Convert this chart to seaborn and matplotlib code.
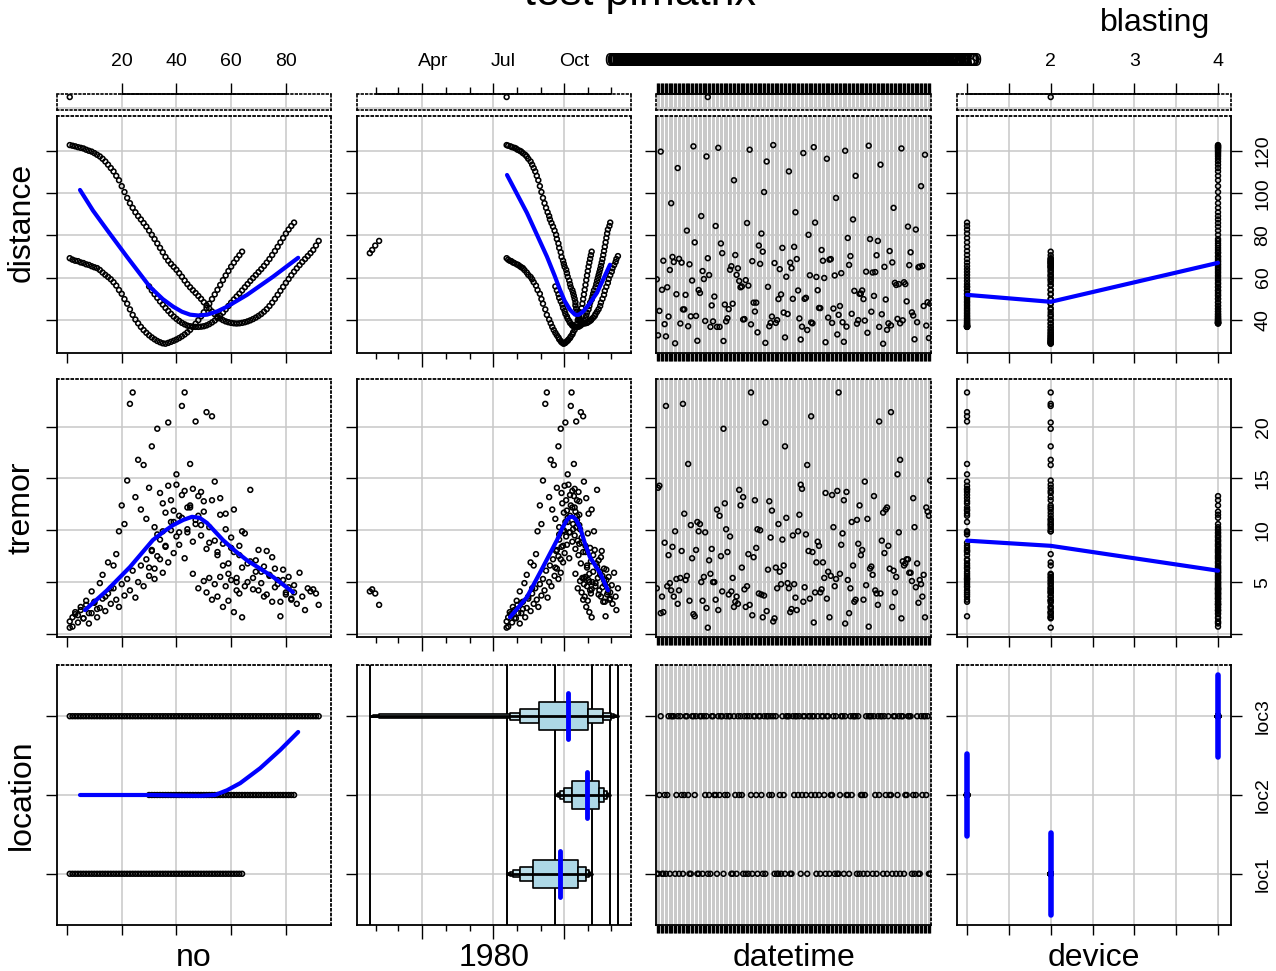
import numpy as np
import pandas as pd
import matplotlib
matplotlib.use("Agg")
import matplotlib.pyplot as plt
import matplotlib.transforms as mtransforms
import seaborn as sns

# ---------------- data ----------------
# location loc1 (device 2), no 1..64
loc1_distance = [69.2, 68.5, 68.0, 67.8, 67.2, 66.9, 66.3, 66.0, 65.4, 64.9,
                 64.5, 63.6, 62.4, 61.3, 60.3, 59.2, 57.8, 56.2, 54.1, 52.3,
                 49.8, 47.6, 44.9, 42.3, 40.1, 38.3, 36.6, 35.1, 33.8, 32.6,
                 31.6, 30.7, 29.9, 29.3, 28.8, 28.6, 29.0, 29.5, 30.0, 30.6,
                 31.3, 32.1, 33.0, 34.0, 35.2, 36.6, 38.1, 39.8, 41.6, 43.5,
                 45.5, 47.6, 49.8, 52.0, 54.2, 56.5, 58.8, 61.0, 63.1, 65.2,
                 67.1, 68.9, 70.6, 72.3]
loc1_tremor = [0.6, 1.6, 2.1, 1.8, 2.6, 1.5, 3.2, 2.0, 4.1, 3.0,
               2.4, 4.9, 5.7, 3.6, 6.9, 4.4, 6.6, 7.7, 9.9, 12.4,
               10.6, 14.8, 22.2, 23.3, 13.2, 16.8, 12.0, 16.3, 11.1, 14.1,
               18.1, 10.3, 19.8, 13.6, 9.9, 11.7, 20.4, 12.9, 10.8, 14.4,
               11.4, 22.0, 13.8, 10.1, 12.2, 5.8, 11.0, 4.4, 10.5, 5.1,
               4.0, 5.4, 3.3, 4.8, 3.6, 5.5, 2.6, 4.6, 3.2, 5.2,
               2.1, 4.2, 3.9, 1.6]
loc1_day = [201, 203, 205, 207, 209, 211, 214, 216, 218, 220,
            222, 224, 227, 229, 232, 234, 236, 239, 241, 244,
            246, 248, 251, 253, 256, 258, 260, 262, 264, 266,
            268, 269, 271, 272, 274, 275, 277, 278, 280, 281,
            283, 284, 286, 287, 289, 290, 292, 293, 295, 296,
            298, 299, 300, 301, 302, 303, 304, 305, 306, 307,
            308, 309, 310, 311]
loc1_time = [1015, 1342, 905, 1130, 1528, 1207, 946, 1415, 1052, 1610,
             1238, 918, 1456, 1103, 1321, 842, 1549, 1126, 1004, 1433,
             1212, 1650, 935, 1358, 1117, 1542, 1029, 1305, 1446, 851,
             1224, 1607, 1040, 1337, 926, 1515, 1148, 1409, 1003, 1251,
             1628, 912, 1354, 1136, 1520, 1018, 1431, 1209, 946, 1603,
             1327, 1055, 1442, 1214, 904, 1536, 1121, 1348, 1009, 1612,
             1235, 930, 1502, 1144]

# location loc2 (device 1), no 30..83
loc2_distance = [55.8, 53.9, 52.1, 50.4, 48.7, 47.2, 45.6, 44.2, 42.8, 41.5,
                 40.4, 39.4, 38.5, 37.8, 37.2, 36.9, 36.7, 36.6, 36.6, 36.7,
                 36.9, 37.3, 37.9, 38.7, 39.6, 40.7, 42.0, 43.4, 44.9, 46.5,
                 48.1, 49.6, 51.0, 52.4, 53.9, 55.4, 56.9, 58.4, 59.8, 61.2,
                 62.6, 64.0, 65.5, 67.1, 68.8, 70.7, 72.6, 74.6, 76.7, 78.8,
                 80.9, 82.8, 84.5, 86.1]
loc2_tremor = [6.4, 8.1, 5.3, 9.6, 7.2, 12.6, 8.5, 14.3, 10.8, 11.9,
               15.4, 9.8, 13.4, 23.3, 12.2, 16.4, 14.0, 20.5, 11.4, 13.7,
               12.8, 21.4, 8.8, 21.0, 14.7, 7.9, 13.1, 6.6, 11.6, 5.8,
               8.3, 12.0, 5.0, 7.6, 9.9, 4.6, 6.8, 13.9, 5.4, 7.1,
               4.2, 6.0, 3.6, 8.0, 5.6, 3.1, 6.3, 4.8, 1.7, 5.2,
               3.8, 4.5, 3.3, 4.0]
loc2_day = [264, 266, 268, 269, 271, 273, 274, 276, 277, 279,
            280, 282, 283, 285, 286, 288, 289, 291, 292, 294,
            295, 297, 298, 300, 301, 303, 304, 305, 307, 308,
            309, 311, 312, 313, 314, 316, 317, 318, 319, 320,
            321, 322, 323, 324, 325, 326, 327, 328, 329, 330,
            331, 332, 334, 335]
loc2_time = [1112, 1436, 927, 1302, 1554, 1041, 1325, 858, 1417, 1203,
             1538, 1014, 1346, 1129, 1621, 945, 1251, 1503, 1036, 1410,
             1158, 1527, 907, 1315, 1442, 1047, 1604, 1222, 938, 1359,
             1135, 1519, 1024, 1436, 1247, 913, 1550, 1106, 1332, 1017,
             1458, 1213, 1618, 934, 1344, 1102, 1526, 1239, 954, 1411,
             1143, 1607, 1028, 1320]

# location loc3 (device 4), no 1..92
loc3_distance = [122.9, 122.6, 122.3, 121.9, 121.6, 121.3, 120.7, 120.2, 119.8, 119.1,
                 118.3, 117.5, 116.4, 115.1, 113.6, 112.0, 110.4, 108.3, 106.2, 103.4,
                 100.6, 97.8, 95.3, 93.1, 91.0, 89.2, 87.6, 85.9, 84.2, 82.3,
                 80.3, 78.3, 76.2, 74.1, 72.0, 69.8, 68.0, 66.5, 65.1, 63.7,
                 62.1, 60.4, 58.6, 56.9, 55.4, 54.0, 52.7, 51.3, 49.9, 48.3,
                 46.8, 45.3, 43.9, 42.6, 41.5, 40.6, 39.8, 39.2, 38.8, 38.5,
                 38.3, 38.2, 38.3, 38.5, 38.8, 39.2, 39.7, 40.3, 41.0, 41.8,
                 42.7, 43.8, 45.0, 46.5, 48.1, 49.9, 51.8, 53.7, 55.6, 57.5,
                 59.3, 61.1, 62.8, 64.4, 65.9, 67.4, 68.8, 70.2, 71.6, 73.1,
                 75.2, 77.4]
loc3_tremor = [1.2, 0.7, 1.9, 1.1, 2.3, 1.5, 2.8, 1.0, 2.0, 3.1,
               1.6, 2.5, 3.4, 2.2, 3.9, 2.9, 4.4, 3.3, 2.6, 4.8,
               3.7, 5.3, 4.2, 6.1, 3.5, 5.0, 6.6, 4.6, 7.2, 5.6,
               8.0, 6.3, 7.5, 9.1, 5.9, 8.4, 6.9, 10.0, 7.8, 9.4,
               8.6, 11.2, 7.3, 9.8, 12.4, 8.9, 10.6, 13.3, 9.5, 11.8,
               8.2, 10.3, 12.9, 9.0, 7.6, 11.5, 8.7, 10.1, 6.8, 9.3,
               7.9, 5.4, 8.5, 6.4, 9.7, 5.0, 7.0, 4.3, 6.0, 8.1,
               4.9, 6.5, 3.8, 5.7, 7.4, 4.5, 5.2, 3.1, 6.2, 4.0,
               5.5, 3.4, 4.7, 2.9, 5.9, 3.6, 2.3, 4.4,
               4.1, 4.3, 3.9, 2.8]
loc3_day = [201, 203, 206, 208, 211, 213, 215, 218, 220, 222,
            225, 227, 229, 232, 234, 236, 238, 240, 242, 244,
            246, 248, 250, 252, 254, 256, 257, 259, 261, 263,
            265, 266, 268, 269, 271, 272, 274, 275, 276, 278,
            279, 280, 282, 283, 284, 286, 287, 288, 289, 290,
            290, 291, 292, 293, 294, 295, 295, 296, 297, 298,
            300, 301, 303, 305, 306, 308, 310, 311, 313, 315,
            316, 318, 320, 322, 323, 325, 327, 328, 330, 332,
            333, 335, 337, 338, 340, 342, 343, 345,
            24, 27, 31, 36]
loc3_time = [1205, 1448, 953, 1317, 1034, 1542, 1128, 1409, 901, 1256,
             1621, 1015, 1339, 1152, 1504, 928, 1233, 1427, 1058, 1613,
             1146, 1351, 919, 1530, 1242, 1006, 1418, 1124, 1557, 942,
             1308, 1449, 1037, 1215, 1602, 923, 1331, 1143, 1516, 1050,
             1402, 1227, 948, 1539, 1112, 1324, 1005, 1457, 1238, 1625,
             1019, 1347, 1134, 1511, 914, 1250, 1433, 1043, 1608, 1158,
             1316, 931, 1524, 1207, 1405, 1022, 1545, 1118, 1340, 957,
             1229, 1452, 1049, 1619, 1131, 1302, 939, 1420, 1156, 1535,
             1011, 1313, 1443, 1104, 1558, 926, 1247, 1415, 1039, 1329,
             1142, 1503]

# smoothing lines
smooth_no_dist_x = [4.75, 9.5, 14.6, 21.9, 30.3, 35.0, 38.8, 42.0, 45.0, 48.0, 51.2, 55.0,
                    58.5, 65.8, 75.3, 84.5]
smooth_no_dist_y = [101.6, 91.8, 82.7, 69.9, 55.6, 49.8, 46.2, 43.8, 42.4, 42.0, 42.4, 44.0,
                    46.2, 51.8, 60.4, 69.4]
smooth_day_dist_x = [201.5, 227.3, 253.2, 263.0, 270, 276.0, 283, 289.4, 294.0, 299.8, 308.0,
                     317.9, 334.7]
smooth_day_dist_y = [108.7, 90.7, 69.9, 61.0, 54.2, 49.0, 44.7, 42.4, 42.3, 43.8, 47.5,
                     52.8, 66.1]
smooth_dev_dist_x = [1, 2, 4]
smooth_dev_dist_y = [51.8, 48.5, 67.0]
smooth_no_trem_x = [6.6, 14.6, 23, 31.4, 35.5, 38.8, 42.5, 45.7, 48.5, 51.2, 57, 61.5,
                    65.8, 75.3, 82.6]
smooth_no_trem_y = [2.3, 4.2, 6.45, 9.06, 9.9, 10.5, 11.0, 11.3, 11.2, 10.7, 9.06, 8.0,
                    7.1, 5.5, 4.03]
smooth_day_trem_x = [205.3, 227.3, 248, 266.2, 273.0, 279, 283.0, 286.8, 291.0, 295.9,
                     302.0, 308.8, 321.8, 332.1]
smooth_day_trem_y = [1.6, 3.55, 6.45, 9.06, 10.2, 11.0, 11.3, 11.3, 11.0, 10.3,
                     8.8, 7.4, 5.9, 4.2]
smooth_dev_trem_x = [1, 2, 4]
smooth_dev_trem_y = [9.0, 8.5, 6.1]
smooth_no_loc_x = [4.75, 30.3, 48.6, 54.1, 58.5, 63.3, 70.6, 77.9, 84.5]
smooth_no_loc_y = [2.0, 2.0, 1.99, 2.0, 2.06, 2.15, 2.34, 2.57, 2.80]

location_names = ["loc1", "loc2", "loc3"]
distance_ticks = [40, 60, 80, 100, 120]
tremor_ticks = [0, 5, 10, 15, 20]
tremor_labels = ["", "5", "10", "15", "20"]
no_ticks = [0, 20, 40, 60, 80]
no_labels = ["20", "40", "60", "80"]
month_labels = ["Apr", "Jul", "Oct"]
device_ticks = [1, 1.5, 2, 2.5, 3, 3.5, 4]
device_labels = ["1", "2", "3", "4"]

# ---------------- build the table ----------------
frames = []
for code, dev, no0, dist, trem, day, tm in [
        (1, 2, 1, loc1_distance, loc1_tremor, loc1_day, loc1_time),
        (2, 1, 30, loc2_distance, loc2_tremor, loc2_day, loc2_time),
        (3, 4, 1, loc3_distance, loc3_tremor, loc3_day, loc3_time)]:
    n = len(dist)
    frames.append(pd.DataFrame({"no": np.arange(no0, no0 + n), "distance": dist,
                                "tremor": trem, "day": day, "hhmm": tm,
                                "device": dev, "loc_code": code}))
df = pd.concat(frames, ignore_index=True)
dates = pd.Timestamp("1980-01-01") + pd.to_timedelta(df["day"] - 1, unit="D")
df["dt_label"] = [f"{h // 100:02d}:{h % 100:02d} {d.day:02d}.{d.month:02d}"
                  for h, d in zip(df["hhmm"], dates)]
levels = sorted(df["dt_label"].unique())
nlev = len(levels)
df["dt_pos"] = df["dt_label"].map({l: i for i, l in enumerate(levels)})

month_starts = pd.date_range("1980-02-01", "1980-12-01", freq="MS").dayofyear.values
quarter_starts = pd.DatetimeIndex(["1980-04-01", "1980-07-01", "1980-10-01"]).dayofyear.values
mid_months = pd.DatetimeIndex(["1980-04-15", "1980-07-15", "1980-10-15"]).dayofyear.values

# ---------------- figure ----------------
sns.set_theme(style="white")
plt.rcParams["font.family"] = ["Liberation Sans", "DejaVu Sans"]
plt.rcParams["axes.edgecolor"] = "black"
plt.rcParams["text.color"] = "black"
plt.rcParams["xtick.color"] = "black"
plt.rcParams["ytick.color"] = "black"
plt.rcParams["axes.labelcolor"] = "black"

W, H = 1276, 971
fig = plt.figure(figsize=(W / 100, H / 100), dpi=100)


def rect(l, t, r, b):
    return [l / W, 1 - b / H, (r - l) / W, (b - t) / H]


GRID = "#c8c8c8"
col_px = [(57, 331), (357, 631), (656, 931), (957, 1231)]
row_px = [(116, 353), (379, 637), (665, 925)]
xcols = ["no", "day", "dt_pos", "device"]
ycols = ["distance", "tremor", "loc_code"]
xlims = [(-3.66, 96.5), (7.4, 361.9), (-0.6, nlev - 0.4), (0.88, 4.155)]
xgrid = [no_ticks[1:], list(quarter_starts), list(range(nlev)), device_ticks]
ylims = [(24.2, 136.7), (-0.3, 24.6), (0.35, 3.65)]
yticks = [distance_ticks, tremor_ticks, [1, 2, 3]]
ylabels_right = [[str(v) for v in distance_ticks], tremor_labels, location_names]

smooth = {
    (0, 0): (smooth_no_dist_x, smooth_no_dist_y),
    (0, 1): (smooth_day_dist_x, smooth_day_dist_y),
    (0, 3): (smooth_dev_dist_x, smooth_dev_dist_y),
    (1, 0): (smooth_no_trem_x, smooth_no_trem_y),
    (1, 1): (smooth_day_trem_x, smooth_day_trem_y),
    (1, 3): (smooth_dev_trem_x, smooth_dev_trem_y),
    (2, 0): (smooth_no_loc_x, smooth_no_loc_y),
}

pt_kw = dict(marker="o", s=12, facecolor="none", edgecolor="black",
             linewidth=1.15, legend=False, zorder=3)

for r, (t, b) in enumerate(row_px):
    for c, (l, rr) in enumerate(col_px):
        ax = fig.add_axes(rect(l, t, rr, b))
        ax.set_facecolor("white")
        # grid
        if c == 2:
            ax.vlines(range(nlev), ylims[r][0], ylims[r][1], color=GRID, lw=0.7, zorder=0)
        else:
            for gx in xgrid[c]:
                ax.axvline(gx, color=GRID, lw=1.1, zorder=0)
        for gy in yticks[r]:
            ax.axhline(gy, color=GRID, lw=1.1, zorder=0)

        if r == 2 and c == 1:
            # location vs date: letter-value boxes
            for code in [1, 2, 3]:
                dd = df.loc[df.loc_code == code, "day"]
                ax.axvline(dd.min(), color="black", lw=1.4, zorder=1)
                ax.axvline(dd.max(), color="black", lw=1.4, zorder=1)
            sns.boxenplot(data=df, x="day", y="loc_code", orient="h", native_scale=True,
                          color="lightblue", saturation=1, linecolor="black",
                          linewidth=1.2, width=0.36, showfliers=False, k_depth=6,
                          line_kws=dict(linewidth=0), ax=ax)
            for code in [1, 2, 3]:
                dd = df.loc[df.loc_code == code, "day"]
                ax.plot([dd.min(), dd.max()], [code, code], color="black", lw=2.0, zorder=4)
                med = np.median(dd)
                ax.plot([med, med], [code - 0.29, code + 0.29], color="blue", lw=3.5,
                        solid_capstyle="round", zorder=6)
        else:
            sns.scatterplot(data=df, x=xcols[c], y=ycols[r], ax=ax, **pt_kw)

        if (r, c) in smooth:
            sx, sy = smooth[(r, c)]
            sns.lineplot(x=sx, y=sy, sort=False, estimator=None, color="blue",
                         linewidth=3.0, solid_capstyle="round", ax=ax, zorder=5)
        if r == 2 and c == 3:
            pairs = df[["device", "loc_code"]].drop_duplicates()
            for dv, code in zip(pairs["device"], pairs["loc_code"]):
                ax.plot([dv, dv], [code - 0.52, code + 0.52], color="blue", lw=4.0,
                        solid_capstyle="round", zorder=5)

        ax.set_xlim(*xlims[c])
        ax.set_ylim(*ylims[r])
        ax.set_xlabel("")
        ax.set_ylabel("")
        # ticks
        if c == 0:
            ax.set_xticks(no_ticks)
        elif c == 1:
            ax.set_xticks(quarter_starts)
            ax.set_xticks(month_starts, minor=True)
        elif c == 2:
            ax.set_xticks(range(nlev))
        else:
            ax.set_xticks(device_ticks)
        ax.set_yticks(yticks[r])
        ax.tick_params(axis="x", which="major", bottom=True, top=False, direction="out",
                       length=10 if c == 1 else (6 if c == 2 else 7), width=1.0,
                       color="black", labelbottom=False)
        ax.tick_params(axis="x", which="minor", bottom=True, direction="out",
                       length=4, width=1.0, color="black")
        ax.tick_params(axis="y", left=True, direction="out", length=8, width=1.0,
                       color="black", labelleft=False)
        if c == 3:
            ax.set_yticklabels(ylabels_right[r])
            ax.tick_params(axis="y", right=True, labelright=True, labelrotation=90,
                           labelsize=14, pad=9, labelcolor="black")
            for lab in ax.get_yticklabels():
                lab.set_va("center")
        for side in ["left", "bottom", "top", "right"]:
            ax.spines[side].set_linewidth(1.3)
            ax.spines[side].set_color("black")
        ax.spines["top"].set_linestyle(":")
        if c != 3:
            ax.spines["right"].set_linestyle(":")
        ax.grid(False)

# ---------------- top strips ----------------
first = df.iloc[[0]]
label_y = 1 - 62 / H
strip_ticks = [no_ticks[1:], list(quarter_starts), list(range(nlev)), device_ticks]
strip_label_pos = [no_ticks[1:], list(mid_months), list(range(nlev)), [1, 2, 3, 4]]
strip_label_txt = [no_labels, month_labels, levels, device_labels]
for c, (l, rr) in enumerate(col_px):
    sax = fig.add_axes(rect(l, 94, rr, 110))
    sax.set_xlim(*xlims[c])
    sax.set_ylim(0, 1)
    if c == 2:
        sax.vlines(range(nlev), 0, 1, color=GRID, lw=0.7, zorder=0)
    else:
        for gx in xgrid[c]:
            sax.axvline(gx, color=GRID, lw=1.1, zorder=0)
    sax.axhline(0.12, color=GRID, lw=1.1, zorder=0)
    sns.scatterplot(x=first[xcols[c]].values, y=[0.81], ax=sax, **pt_kw)
    sax.set_xlim(*xlims[c])
    sax.set_ylim(0, 1)
    sax.set_xticks(strip_ticks[c])
    if c == 1:
        sax.set_xticks(month_starts, minor=True)
    sax.set_yticks([])
    sax.xaxis.set_ticks_position("top")
    sax.tick_params(axis="x", which="major", top=True, bottom=False, direction="out",
                    length=8, width=1.0, color="black", labeltop=False, labelbottom=False)
    sax.tick_params(axis="x", which="minor", top=True, bottom=False, direction="out",
                    length=5, width=1.0, color="black")
    for side in ["left", "bottom", "top", "right"]:
        sax.spines[side].set_linestyle(":")
        sax.spines[side].set_linewidth(1.2)
        sax.spines[side].set_color("black")
    trans_line = mtransforms.blended_transform_factory(sax.transData, sax.transAxes)
    tk = strip_ticks[c] if c != 1 else list(month_starts)
    sax.plot([tk[0], tk[-1]], [1, 1], transform=trans_line, color="black", lw=1.3,
             clip_on=False, zorder=6)
    trans_lab = mtransforms.blended_transform_factory(sax.transData, fig.transFigure)
    for pos, txt in zip(strip_label_pos[c], strip_label_txt[c]):
        sax.text(pos, label_y, txt, transform=trans_lab, ha="center", va="center",
                 fontsize=14, color="black", clip_on=False)
    sax.set_xlabel("")
    sax.set_ylabel("")
    sax.grid(False)

# ---------------- labels ----------------
for name, yc in zip(["distance", "tremor", "location"], [222, 508, 795]):
    fig.text(22 / W, 1 - yc / H, name, rotation=90, ha="center", va="center",
             fontsize=23, color="black")
for name, (l, rr) in zip(["no", "1980", "datetime", "device"], col_px):
    fig.text((l + rr) / 2 / W, 1 - 966 / H, name, ha="center", va="baseline",
             fontsize=23, color="black")
fig.text(1155 / W, 1 - 31 / H, "blasting", ha="center", va="baseline", fontsize=23,
         color="black")
fig.text(640 / W, 1 - 5 / H, "test pimatrix", ha="center", va="baseline", fontsize=31,
         color="black")

fig.savefig("out.png", dpi=100)
